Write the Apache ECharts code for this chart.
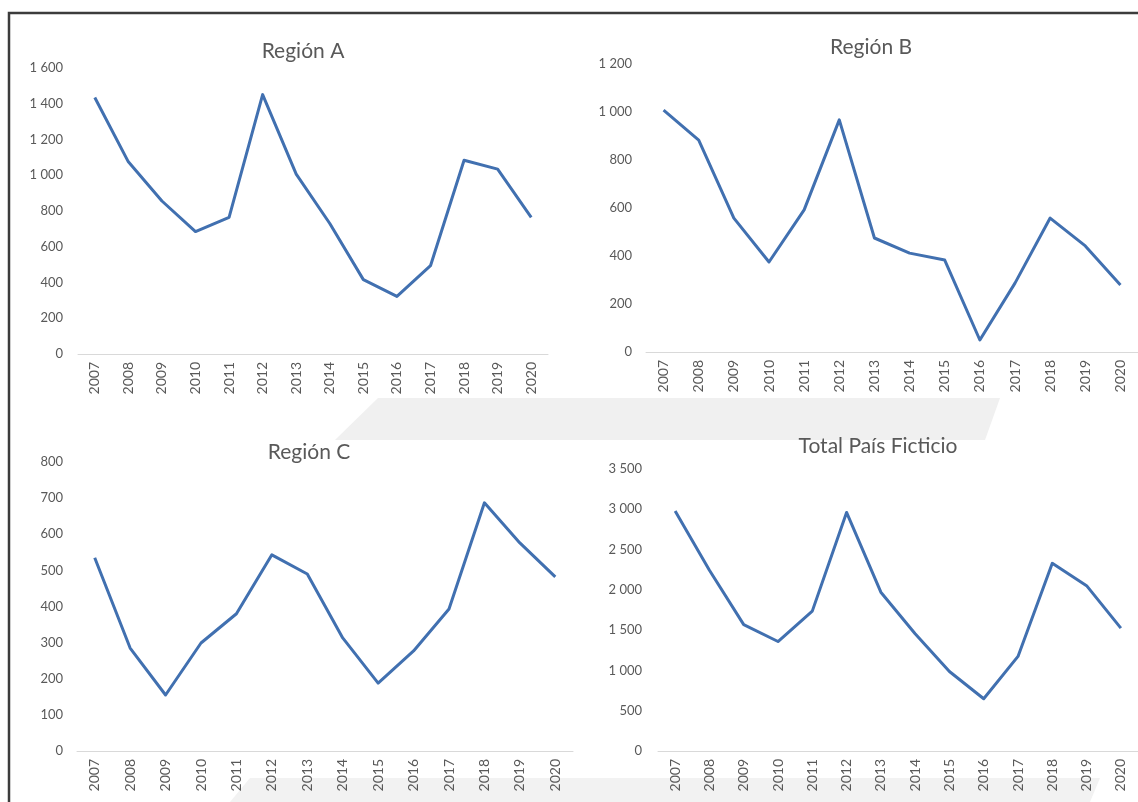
<!DOCTYPE html>
<html>
<head>
<meta charset="utf-8">
<script src="https://cdn.jsdelivr.net/npm/echarts@6/dist/echarts.min.js"></script>
<style>
  html, body { margin: 0; padding: 0; background: #ffffff; }
  #chart { width: 1138px; height: 802px; }
</style>
</head>
<body>
<div id="chart"></div>
<script>
// Years shared by all four panels
const years = ['2007','2008','2009','2010','2011','2012','2013','2014','2015','2016','2017','2018','2019','2020'];

// Yearly values per region
const regionA = [1435, 1075, 856, 685, 764, 1451, 1006, 730, 416, 322, 494, 1084, 1034, 764];
const regionB = [1008, 883, 558, 375, 592, 967, 475, 412, 383, 50, 287, 558, 442, 279];
const regionC = [535, 285, 155, 299, 380, 543, 490, 313, 188, 277, 393, 687, 576, 482];
const totalPais = [2978, 2243, 1569, 1359, 1736, 2961, 1971, 1455, 987, 649, 1174, 2329, 2052, 1525];

// Panel titles
const titles = ['Región A', 'Región B', 'Región C', 'Total País Ficticio'];

// Value-axis ranges: [max, interval]
const yScales = [[1600, 200], [1200, 200], [800, 100], [3500, 500]];

const FONT = 'Lato, "Open Sans", sans-serif';
const TEXT = '#595959';
const LINE = '#4170b0';

// Thousands separated by a space, e.g. "1 600"
function fmt(v) {
  if (v >= 1000) return Math.floor(v / 1000) + ' ' + String(v % 1000).padStart(3, '0');
  return String(v);
}

const grids = [
  { left: 78,  right: 590, top: 68,  bottom: 448 },
  { left: 646, right: 0,   top: 64,  bottom: 450 },
  { left: 77,  right: 565, top: 462, bottom: 51 },
  { left: 658, right: 0,   top: 469, bottom: 51 }
];
const titlePos = [[303, 41], [871, 37], [309, 442], [878, 436]];
const series = [regionA, regionB, regionC, totalPais];
const labelMargins = [15, 14, 14, 16];

const chart = echarts.init(document.getElementById('chart'), null, { renderer: 'canvas' });

chart.setOption({
  backgroundColor: '#ffffff',
  animation: false,
  title: titles.map((t, i) => ({
    text: t,
    left: titlePos[i][0],
    top: titlePos[i][1],
    textAlign: 'center',
    padding: 0,
    textStyle: { fontFamily: FONT, fontSize: 21, fontWeight: 'normal', color: TEXT }
  })),
  grid: grids,
  xAxis: grids.map((g, i) => ({
    type: 'category',
    gridIndex: i,
    data: years,
    boundaryGap: true,
    axisLine: { show: true, lineStyle: { color: '#d9d9d9', width: 1 } },
    axisTick: { show: false },
    axisLabel: { rotate: 90, margin: 8, fontFamily: FONT, fontSize: 14, color: TEXT, interval: 0 },
    splitLine: { show: false }
  })),
  yAxis: grids.map((g, i) => ({
    type: 'value',
    gridIndex: i,
    min: 0,
    max: yScales[i][0],
    interval: yScales[i][1],
    axisLine: { show: false },
    axisTick: { show: false },
    splitLine: { show: false },
    axisLabel: { margin: labelMargins[i], fontFamily: FONT, fontSize: 13, color: TEXT, formatter: fmt }
  })),
  series: series.map((d, i) => ({
    type: 'line',
    xAxisIndex: i,
    yAxisIndex: i,
    data: d,
    symbol: 'none',
    lineStyle: { color: LINE, width: 3, join: 'round' },
    z: 3
  })),
  graphic: [
    // faint background shapes between and below the panels
    {
      type: 'polygon', z: -10, silent: true,
      shape: { points: [[335, 440], [378, 398], [1000, 398], [985, 440]] },
      style: { fill: '#f0f0f0' }
    },
    {
      type: 'polygon', z: -10, silent: true,
      shape: { points: [[230, 802], [250, 778], [1100, 778], [1090, 802]] },
      style: { fill: '#f2f2f2' }
    },
    // frame round the figure
    {
      type: 'rect', z: 10, silent: true,
      shape: { x: 9, y: 13, width: 1140, height: 800 },
      style: { fill: 'none', stroke: '#3c3c3c', lineWidth: 2.5 }
    }
  ]
});
</script>
</body>
</html>
